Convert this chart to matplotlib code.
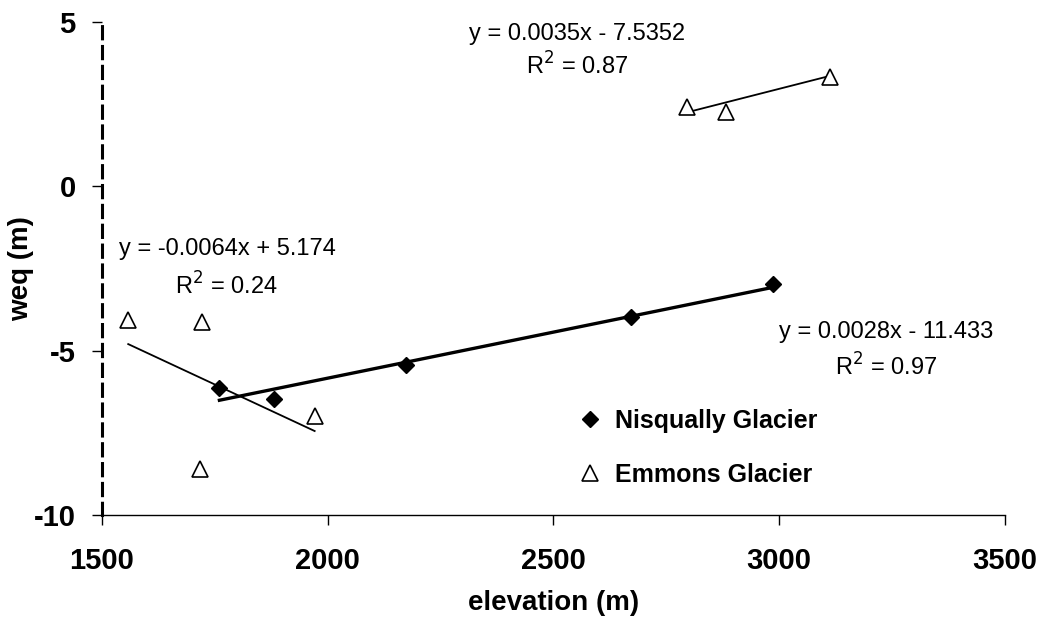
import matplotlib.pyplot as plt
import numpy as np

plt.rcParams["font.family"] = ["Liberation Sans", "DejaVu Sans"]
plt.rcParams["axes.unicode_minus"] = False

# Nisqually Glacier (filled diamonds)
nisq_elev = [1760, 1882, 2173, 2671, 2987]
nisq_weq = [-6.14, -6.47, -5.44, -3.98, -2.98]

# Emmons Glacier (open triangles), lower and upper groups
emm_low_elev = [1558, 1722, 1971, 1718]
emm_low_weq = [-4.07, -4.13, -6.99, -8.60]
emm_up_elev = [2796, 2882, 3113]
emm_up_weq = [2.40, 2.25, 3.34]

# trend lines as printed on the chart: (slope, intercept)
nisq_fit = (0.0028, -11.433)
emm_low_fit = (-0.0064, 5.174)
emm_up_fit = (0.0035, -7.5352)

fig = plt.figure(figsize=(10.37, 6.26), dpi=100)
ax = fig.add_axes([0.0984, 0.177, 0.8706, 0.788])


def trend(ax, xs, fit, lw):
    x = np.array([min(xs), max(xs)])
    ax.plot(x, fit[0] * x + fit[1], color="black", lw=lw, zorder=2)


trend(ax, nisq_elev, nisq_fit, 2.4)
trend(ax, emm_low_elev, emm_low_fit, 1.3)
trend(ax, emm_up_elev, emm_up_fit, 1.3)

ax.plot(nisq_elev, nisq_weq, "D", color="black", ms=8, zorder=3,
        label="Nisqually Glacier")
tri_style = dict(marker="^", ls="none", ms=12, mfc="white", mec="black", mew=1.2,
                 zorder=3)
ax.plot(emm_low_elev, emm_low_weq, label="Emmons Glacier", **tri_style)
ax.plot(emm_up_elev, emm_up_weq, **tri_style)

# equations
eq_kw = dict(fontsize=17, ha="center", va="center")
ax.text(2553, 4.62, "y = 0.0035x - 7.5352", **eq_kw)
ax.text(2553, 3.65, "R$^2$ = 0.87", **eq_kw)
ax.text(1778, -1.91, "y = -0.0064x + 5.174", **eq_kw)
ax.text(1776, -3.04, "R$^2$ = 0.24", **eq_kw)
ax.text(3236, -4.44, "y = 0.0028x - 11.433", **eq_kw)
ax.text(3236, -5.5, "R$^2$ = 0.97", **eq_kw)

ax.legend(loc="upper left", bbox_to_anchor=(0.527, 0.215), frameon=False,
          prop=dict(size=18, weight="bold"), handletextpad=0.5,
          labelspacing=1.2, handlelength=1.0, borderpad=0, borderaxespad=0)

ax.set_xlim(1500, 3500)
ax.set_ylim(-10, 5)
ax.set_xticks([1500, 2000, 2500, 3000, 3500])
ax.set_yticks([-10, -5, 0, 5])
ax.tick_params(labelsize=21, length=7, width=1, direction="out")
ax.tick_params(axis="x", pad=16)
ax.tick_params(axis="y", pad=12)
for lab in ax.get_xticklabels() + ax.get_yticklabels():
    lab.set_fontweight("bold")

ax.set_xlabel("elevation (m)", fontsize=20, fontweight="bold", labelpad=11)
ax.set_ylabel("weq (m)", fontsize=20, fontweight="bold")
ax.yaxis.set_label_coords(-0.075, 0.5)

ax.spines["top"].set_visible(False)
ax.spines["right"].set_visible(False)
ax.spines["left"].set_linestyle((0, (4, 2.5)))
ax.spines["left"].set_linewidth(2.2)
ax.spines["bottom"].set_linewidth(1)

fig.savefig("out.png")
